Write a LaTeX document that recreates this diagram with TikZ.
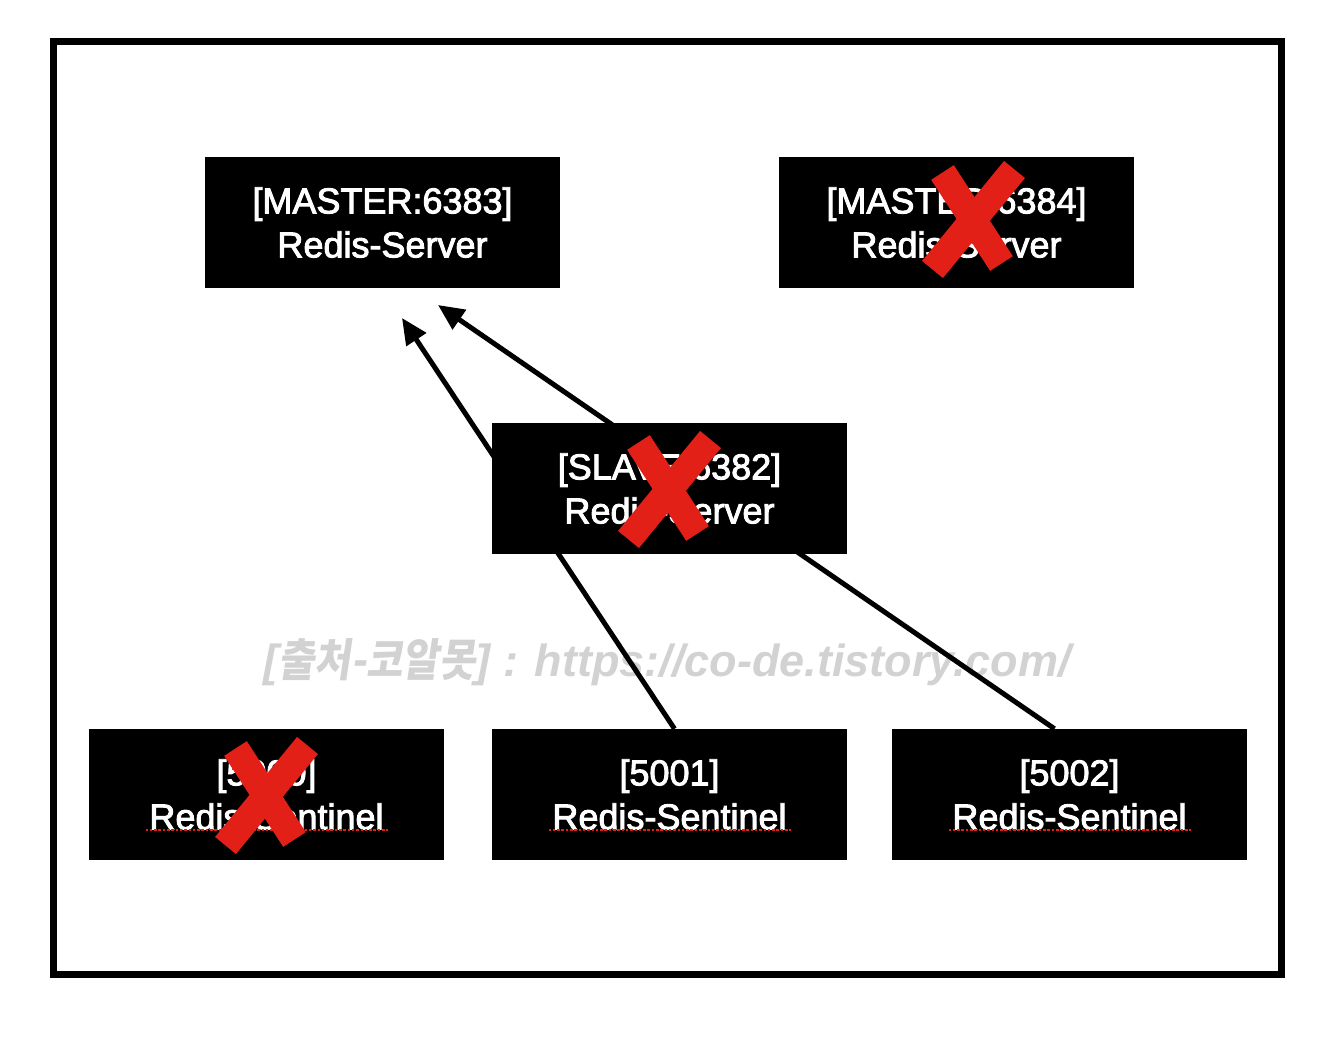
\documentclass[tikz,border=0pt]{standalone}
\usepackage{fontspec}
\setmainfont[FakeBold=2.5]{Liberation Sans}
\newfontfamily\wmfont{Liberation Sans}
\newfontfamily\krfont[FakeSlant=0.15,FakeStretch=0.88]{Noto Sans CJK KR}
\usetikzlibrary{arrows.meta,calc}
\definecolor{xred}{RGB}{227,32,24}
\definecolor{wmgray}{RGB}{210,210,210}
\pgfdeclarelayer{bg}
\pgfsetlayers{bg,main}
\begin{document}
\begin{tikzpicture}[x=1pt,y=-1pt,
  box/.style={fill=black,text=white,minimum width=355pt,minimum height=131pt,inner sep=0pt,align=center,font=\fontsize{36}{44}\selectfont},
  link/.style={line width=5pt,-{Triangle[length=26pt,width=23pt]}},
  cross/.style={line width=27pt,draw=xred},
  squig/.style={draw=xred,line width=2.5pt,dash pattern=on 2.5pt off 1.8pt},
  wm/.style={text=wmgray,inner sep=0pt,font=\fontsize{45}{50}\selectfont\wmfont\bfseries\itshape},
  redx/.pic={\draw[cross] (-30,-46) -- (29,45); \draw[cross] (42,-49) -- (-40,51);}]
\useasboundingbox (0,0) rectangle (1326,1040);
\draw[line width=7pt] (53,42) rectangle (1281,974);
\node[box] (m1) at (382.5,222.5) {[MASTER:6383]\\Redis-Server};
\node[box] (m2) at (956.5,222.5) {[MASTER:6384]\\Redis-Server};
\node[box] (sl) at (669.5,488.5) {[SLAVE:6382]\\Redis-Server};
\node[box] (s0) at (266.5,794.5) {[5000]\\Redis-Sentinel};
\node[box] (s1) at (669.5,794.5) {[5001]\\Redis-Sentinel};
\node[box] (s2) at (1069.5,794.5) {[5002]\\Redis-Sentinel};
\coordinate (t1) at (402,318);
\coordinate (t2) at (438,305);
\begin{pgfonlayer}{bg}
\node[wm] (wm) at (667,662) {[{\krfont\bfseries 출처-코알못}] : https://co-de.tistory.com/};
\draw[link] ([xshift=5pt]s1.north) -- (t1);
\draw[link] ([xshift=-15pt]s2.north) -- (t2);
\end{pgfonlayer}
\foreach \n in {s0,s1,s2}{
  \draw[squig] ($(\n.center)+(-121,35.5)$) -- ($(\n.center)+(121,35.5)$);
}
\pic at ($(m2.center)+(16,-4)$) {redx};
\pic at ($(sl.center)+(-1,0)$) {redx};
\pic at ($(s0.center)+(-1,0)$) {redx};
\end{tikzpicture}
\end{document}
